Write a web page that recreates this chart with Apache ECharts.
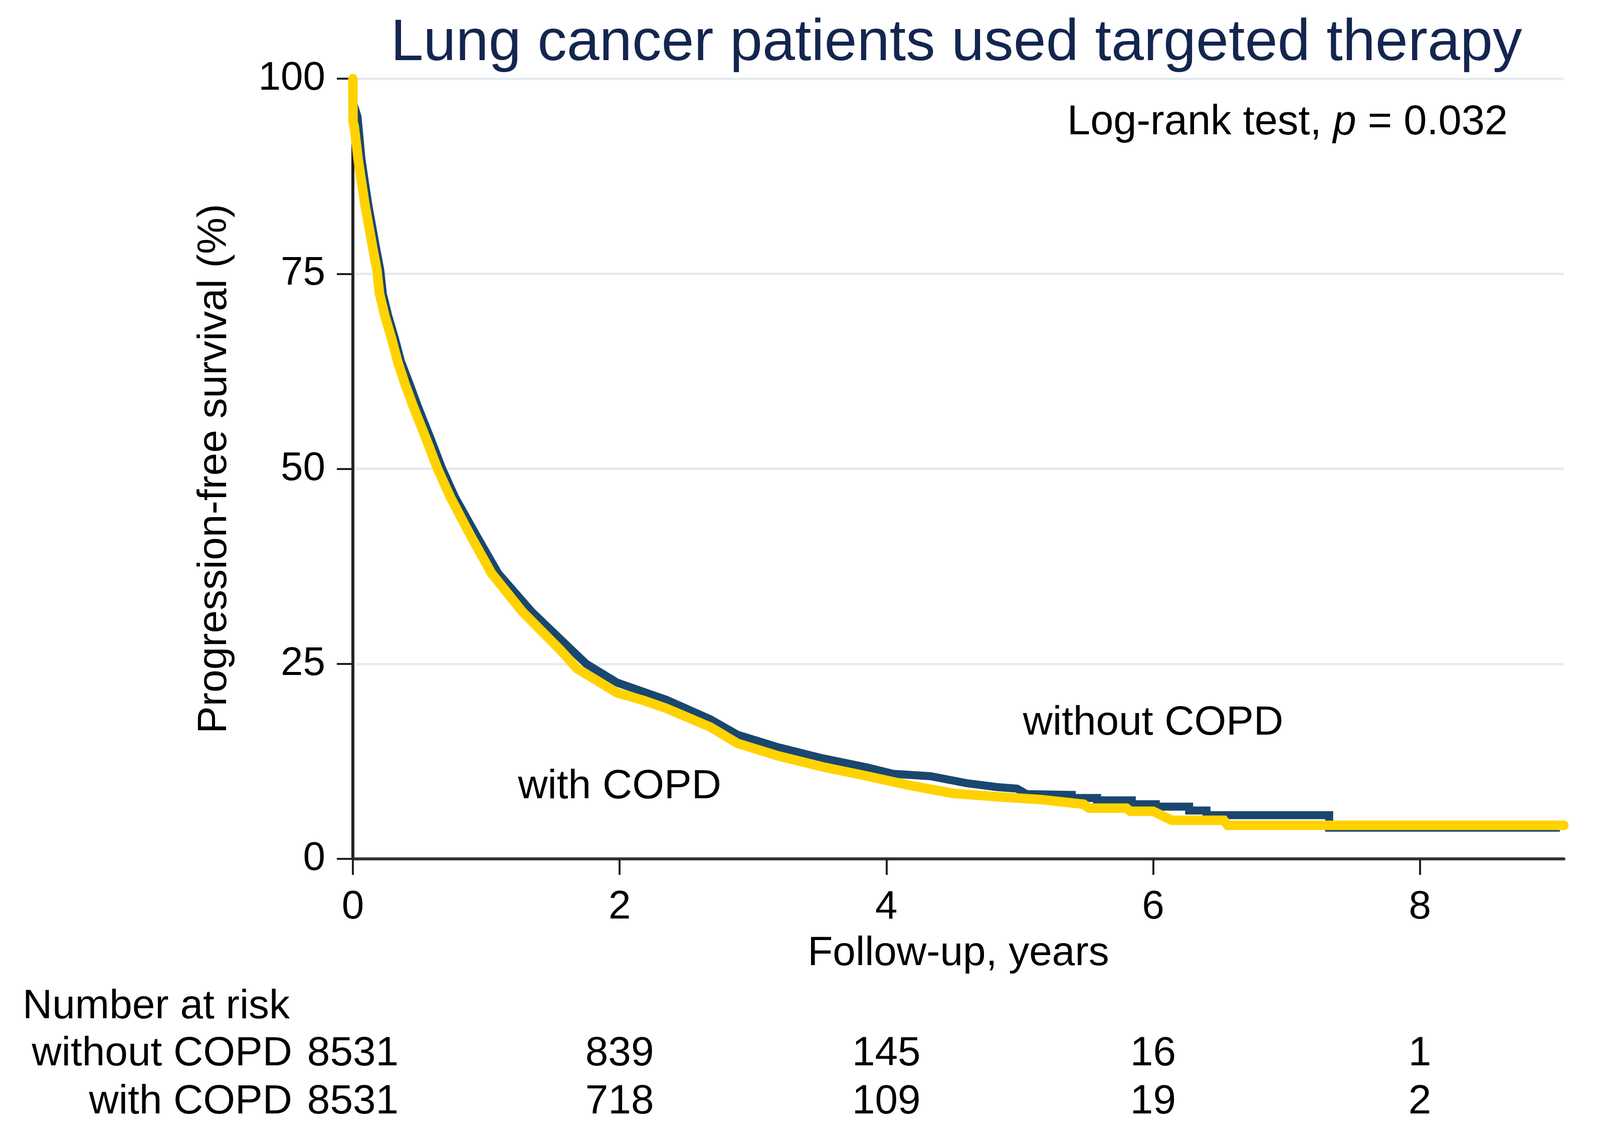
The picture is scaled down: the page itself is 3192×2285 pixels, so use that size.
<!DOCTYPE html>
<html>
<head>
<meta charset="utf-8">
<script src="https://cdn.jsdelivr.net/npm/echarts@6/dist/echarts.min.js"></script>
<style>
html,body{margin:0;padding:0;background:#fff;}
#chart{width:3192px;height:2285px;}
</style>
</head>
<body>
<div id="chart"></div>
<script>
// ---- Data ----
const xTicks = [0, 2, 4, 6, 8];
const yTicks = [0, 25, 50, 75, 100];

// without COPD (navy) Kaplan-Meier curve: time (years) and survival (%)
const tWithout = [0, 0.001, 0.035, 0.065, 0.115, 0.175, 0.205, 0.225, 0.265, 0.315, 0.36, 0.425, 0.485, 0.585, 0.67, 0.765, 0.925, 1.09, 1.34, 1.645, 1.75, 1.98, 2.18, 2.35, 2.68, 2.885, 3.19, 3.52, 3.86, 4.05, 4.33, 4.6, 4.83, 4.98, 5.05, 5.39, 5.39, 5.58, 5.58, 5.84, 5.84, 6.02, 6.02, 6.27, 6.27, 6.40, 6.40, 7.32, 7.32, 9.05];
const sWithout = [100, 97, 95.1, 89.6, 83.9, 78.2, 75.5, 72.4, 69.6, 66.7, 63.8, 60.9, 58.1, 53.8, 50.0, 46.4, 41.5, 36.6, 31.7, 26.7, 25.0, 22.6, 21.4, 20.4, 17.9, 15.9, 14.3, 12.9, 11.7, 10.9, 10.6, 9.7, 9.2, 9.0, 8.3, 8.2, 7.8, 7.8, 7.5, 7.5, 7.0, 7.0, 6.7, 6.7, 6.2, 6.2, 5.6, 5.6, 4.0, 4.0];

// with COPD (yellow) Kaplan-Meier curve
const tWith = [0, 0.001, 0.01, 0.04, 0.09, 0.15, 0.18, 0.2, 0.24, 0.29, 0.335, 0.39, 0.45, 0.55, 0.635, 0.73, 0.88, 1.04, 1.27, 1.56, 1.68, 1.98, 2.18, 2.35, 2.68, 2.885, 3.19, 3.52, 3.86, 4.18, 4.5, 4.83, 5.16, 5.48, 5.52, 5.80, 5.83, 6.0, 6.14, 6.53, 6.56, 9.08];
const sWith = [100, 94.5, 93.9, 89.6, 83.9, 78.2, 75.5, 72.4, 69.6, 66.7, 63.8, 60.9, 58.1, 53.8, 50.0, 46.4, 41.5, 36.6, 31.7, 26.7, 24.4, 21.3, 20.3, 19.3, 16.9, 14.8, 13.2, 11.8, 10.6, 9.4, 8.4, 7.96, 7.6, 7.0, 6.5, 6.5, 6.1, 6.1, 4.95, 4.95, 4.3, 4.3];

// Number at risk table
const riskGroups = ['without COPD', 'with COPD'];
const riskTimes = [0, 2, 4, 6, 8];
const riskWithout = [8531, 839, 145, 16, 1];
const riskWith = [8531, 718, 109, 19, 2];

// Curve labels
const labelWithout = {name: 'without COPD', t: 6.0, s: 17.4};
const labelWith = {name: 'with COPD', t: 2.0, s: 9.2};

// ---- Chart ----
const FONT = "'Liberation Sans', Arial, Helvetica, sans-serif";
const TXT = 82;
const xMax = 9.08;
const chart = echarts.init(document.getElementById('chart'), null, {renderer: 'canvas'});

const zip = (a, b) => a.map((v, i) => [v, b[i]]);

const riskData = [];
riskTimes.forEach((t, i) => {
  riskData.push([t, riskGroups[0], riskWithout[i]]);
  riskData.push([t, riskGroups[1], riskWith[i]]);
});

const option = {
  backgroundColor: '#ffffff',
  animation: false,
  textStyle: {fontFamily: FONT},
  title: {
    text: 'Lung cancer patients used targeted therapy',
    left: 1903, textAlign: 'center', top: 24,
    textStyle: {fontFamily: FONT, fontSize: 117, fontWeight: 'normal', color: '#14264f'}
  },
  grid: [
    {left: 704, right: 72, top: 157, bottom: 571, containLabel: false},
    {left: 704, right: 72, top: 2055, height: 192, containLabel: false}
  ],
  xAxis: [
    {
      type: 'value', gridIndex: 0, min: 0, max: xMax, interval: 2,
      name: 'Follow-up, years', nameLocation: 'middle', nameGap: 148,
      nameTextStyle: {fontFamily: FONT, fontSize: TXT, color: '#000'},
      axisLine: {show: true, onZero: false, lineStyle: {color: '#333', width: 6}},
      axisTick: {show: true, length: 32, customValues: xTicks, lineStyle: {color: '#222', width: 4}},
      axisLabel: {fontFamily: FONT, fontSize: 80, color: '#000', margin: 57, customValues: xTicks},
      splitLine: {show: false}
    },
    {
      type: 'value', gridIndex: 1, min: 0, max: xMax, show: false
    }
  ],
  yAxis: [
    {
      type: 'value', gridIndex: 0, min: 0, max: 100, interval: 25,
      name: 'Progression-free survival (%)', nameLocation: 'middle', nameGap: 235, nameRotate: 90,
      nameTextStyle: {fontFamily: FONT, fontSize: TXT, color: '#000'},
      axisLine: {show: true, lineStyle: {color: '#222', width: 6}},
      axisTick: {show: true, length: 32, lineStyle: {color: '#222', width: 4}},
      axisLabel: {fontFamily: FONT, fontSize: 80, color: '#000', margin: 55},
      splitLine: {show: true, lineStyle: {color: '#e4edf0', width: 5}}
    },
    {
      type: 'category', gridIndex: 1, data: riskGroups, inverse: true,
      axisLine: {show: false}, axisTick: {show: false}, splitLine: {show: false},
      axisLabel: {fontFamily: FONT, fontSize: TXT, color: '#000', margin: 121, interval: 0}
    }
  ],
  graphic: [
    {
      type: 'text', right: 184, top: 204,
      style: {
        text: '{n|Log-rank test, }{i|p}{n| = 0.032}',
        rich: {
          n: {fontFamily: FONT, fontSize: 83, fill: '#000'},
          i: {fontFamily: FONT, fontSize: 83, fontStyle: 'italic', fill: '#000'}
        }
      }
    },
    {
      type: 'text', left: 45, top: 1968,
      style: {text: 'Number at risk', font: "82px 'Liberation Sans', Arial, sans-serif", fill: '#000'}
    }
  ],
  series: [
    {
      name: 'without COPD', type: 'line', xAxisIndex: 0, yAxisIndex: 0,
      data: zip(tWithout, sWithout), showSymbol: false, symbol: 'none',
      lineStyle: {color: '#1a476f', width: 16, join: 'miter', cap: 'butt'},
      z: 3,
      markPoint: {
        symbol: 'circle', symbolSize: 0,
        data: [{coord: [labelWithout.t, labelWithout.s], value: labelWithout.name}],
        label: {show: true, position: 'inside', formatter: '{c}', fontFamily: FONT, fontSize: TXT, color: '#000', textBorderWidth: 0}
      }
    },
    {
      name: 'with COPD', type: 'line', xAxisIndex: 0, yAxisIndex: 0,
      data: zip(tWith, sWith), showSymbol: false, symbol: 'none',
      lineStyle: {color: '#ffd200', width: 19, join: 'miter', cap: 'round'},
      z: 4,
      markPoint: {
        symbol: 'circle', symbolSize: 0,
        data: [{coord: [labelWith.t, labelWith.s], value: labelWith.name}],
        label: {show: true, position: 'inside', formatter: '{c}', fontFamily: FONT, fontSize: TXT, color: '#000', textBorderWidth: 0}
      }
    },
    {
      name: 'risk', type: 'scatter', xAxisIndex: 1, yAxisIndex: 1,
      data: riskData, symbolSize: 0,
      itemStyle: {color: '#000', opacity: 1},
      label: {
        show: true, position: 'inside',
        formatter: p => String(p.value[2]),
        fontFamily: FONT, fontSize: TXT, color: '#000', textBorderWidth: 0, opacity: 1
      }
    }
  ]
};
chart.setOption(option);
</script>
</body>
</html>
